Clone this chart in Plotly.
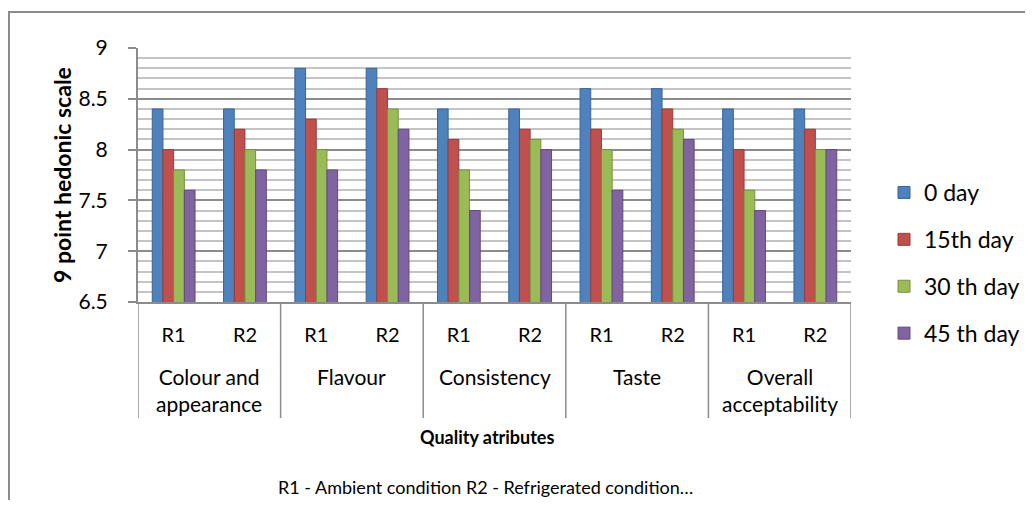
import plotly.graph_objects as go

attributes = ["Colour and<br>appearance", "Flavour", "Consistency", "Taste", "Overall<br>acceptability"]
conditions = ["R1", "R2"]
series_names = ["0 day", "15th day", "30 th day", "45 th day"]
day0 = [8.4, 8.4, 8.8, 8.8, 8.4, 8.4, 8.6, 8.6, 8.4, 8.4]
day15 = [8.0, 8.2, 8.3, 8.6, 8.1, 8.2, 8.2, 8.4, 8.0, 8.2]
day30 = [7.8, 8.0, 8.0, 8.4, 7.8, 8.1, 8.0, 8.2, 7.6, 8.0]
day45 = [7.6, 7.8, 7.8, 8.2, 7.4, 8.0, 7.6, 8.1, 7.4, 8.0]
y_ticks = [6.5, 7, 7.5, 8, 8.5, 9]

colors = ["#4F81BD", "#C0504D", "#9BBB59", "#8064A2"]
edges = ["#3A6496", "#963C3A", "#76903F", "#5F4A7D"]
FONT = "Lato"

x_labels = [c for a in attributes for c in conditions]
x_pos = list(range(len(x_labels)))

fig = go.Figure()
for i, (name, vals) in enumerate(zip(series_names, [day0, day15, day30, day45])):
    fig.add_trace(go.Bar(
        x=x_pos, y=vals, name=name, legendgroup=name,
        marker=dict(color=colors[i], line=dict(color=edges[i], width=1)),
    ))

# figure occupies screen x 8..1025, y 8..500 (page body margin 8px)
OX, OY = 8, 8
W, H = 1017, 492
# plot area in screen coordinates
L, R, T, B = 138, 851, 48, 302
pw, ph = R - L, B - T

def px(xs):
    return (xs - L) / pw

def py(ys):
    return (B - ys) / ph

shapes = []
annotations = []
n_cond = len(conditions)
for gi, a in enumerate(attributes):
    left = gi * n_cond - 0.5
    shapes.append(dict(type="line", xref="x", yref="paper", x0=left, x1=left,
                       y0=0, y1=py(418), line=dict(color="#8c8c8c", width=1.5)))
    annotations.append(dict(text=a, xref="x", yref="paper", x=gi * n_cond + (n_cond - 1) / 2,
                            y=py(362), xanchor="center", yanchor="top", showarrow=False,
                            font=dict(family=FONT, size=21, color="#000")))
last = len(attributes) * n_cond - 0.5
shapes.append(dict(type="line", xref="x", yref="paper", x0=last, x1=last,
                   y0=0, y1=py(418), line=dict(color="#8c8c8c", width=1.5)))
# chart border
shapes.append(dict(type="rect", xref="paper", yref="paper", x0=px(9), x1=px(1060),
                   y0=py(540), y1=py(12), line=dict(color="#8c8c8c", width=2)))

annotations.append(dict(text="<b>9 point hedonic scale</b>", xref="paper", yref="paper",
                        x=px(62), y=py(175), xanchor="center", yanchor="middle",
                        textangle=-90, showarrow=False,
                        font=dict(family=FONT, size=23, color="#000")))
annotations.append(dict(text="<b>Quality atributes</b>", xref="paper", yref="paper",
                        x=px(487), y=py(437), xanchor="center", yanchor="middle", showarrow=False,
                        font=dict(family=FONT, size=18, color="#000")))
annotations.append(dict(text="R1 - Ambient condition R2 - Refrigerated condition…", xref="paper", yref="paper",
                        x=px(485), y=py(487), xanchor="center", yanchor="middle", showarrow=False,
                        font=dict(family=FONT, size=18, color="#000")))

fig.update_layout(
    width=W, height=H,
    margin=dict(l=L - OX, r=(OX + W) - R, t=T - OY, b=(OY + H) - B, pad=0, autoexpand=False),
    paper_bgcolor="white", plot_bgcolor="white",
    barmode="group", bargap=0.4, bargroupgap=0,
    showlegend=True,
    legend=dict(x=px(884), y=py(263), xanchor="left", yanchor="middle",
                traceorder="grouped", tracegroupgap=14,
                font=dict(family=FONT, size=23, color="#000")),
    shapes=shapes, annotations=annotations,
    font=dict(family=FONT, color="#000"),
)
fig.update_xaxes(
    range=[-0.5, len(x_labels) - 0.5], tickvals=x_pos, ticktext=x_labels,
    ticks="", showgrid=False, zeroline=False,
    showline=True, linecolor="#8c8c8c", linewidth=2,
    tickfont=dict(family=FONT, size=20, color="#000"), ticklabelstandoff=14,
)
fig.update_yaxes(
    range=[6.5, 9], tickvals=y_ticks, ticktext=[str(v) for v in y_ticks],
    showgrid=True, gridcolor="#8c8c8c", gridwidth=2,
    minor=dict(dtick=0.1, showgrid=True, gridcolor="#c4c4c4", gridwidth=2, ticks=""),
    zeroline=False, showline=True, linecolor="#8c8c8c", linewidth=2,
    ticks="outside", ticklen=8, tickcolor="#8c8c8c", tickwidth=1.5,
    ticklabelstandoff=16,
    tickfont=dict(family=FONT, size=21, color="#000"),
)

fig.write_html("out.html")
